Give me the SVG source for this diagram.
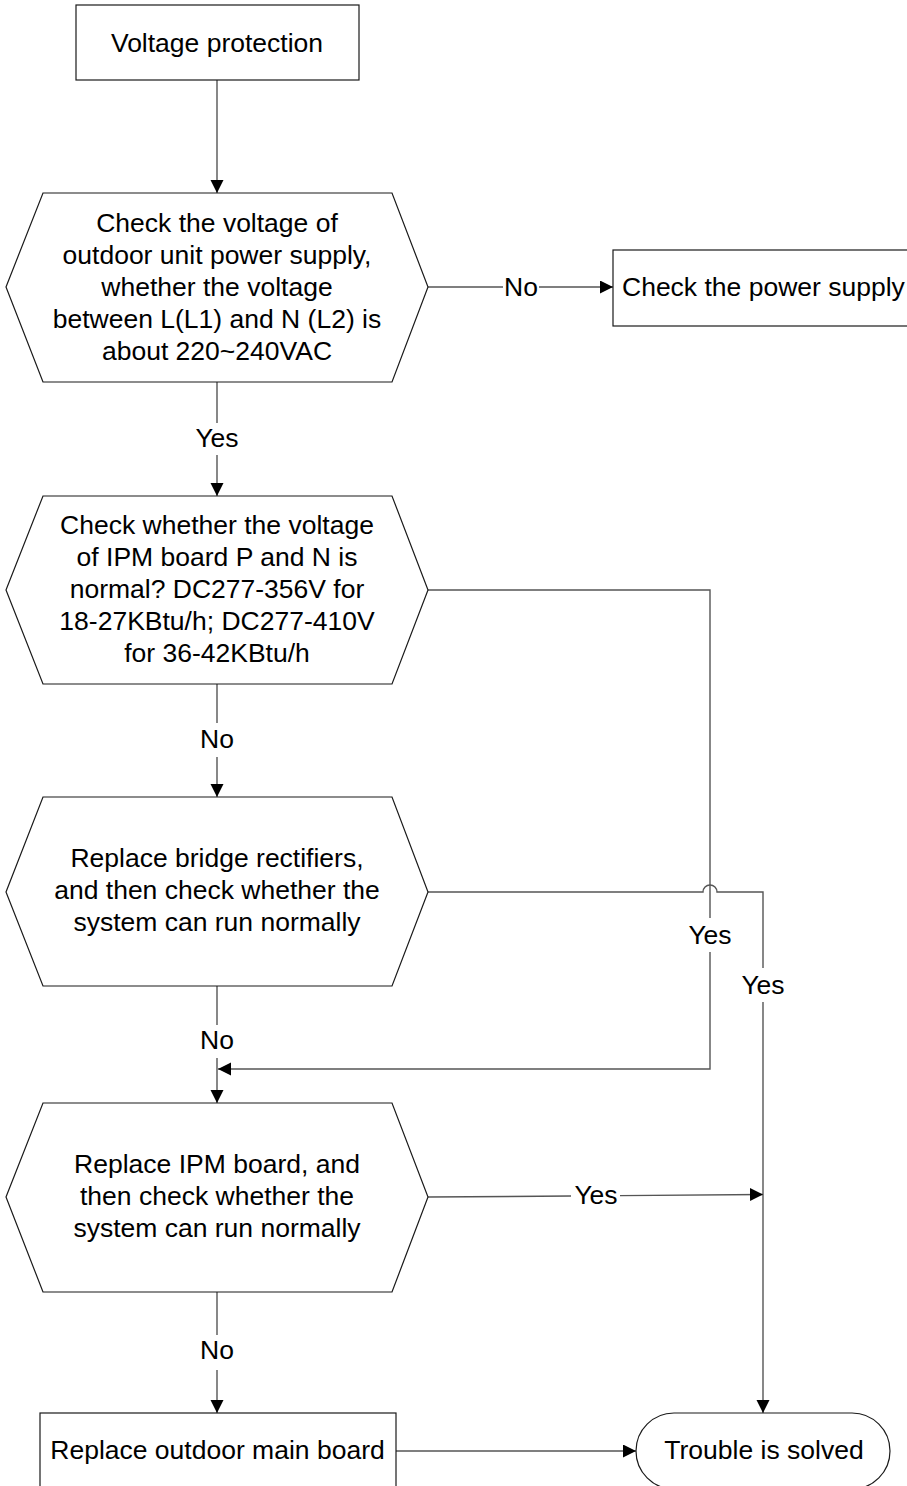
<svg xmlns="http://www.w3.org/2000/svg" width="907" height="1486" viewBox="0 0 907 1486">
<style>
  .shape { fill: #ffffff; stroke: #1a1a1a; stroke-width: 1.2; }
  .t { font-family: "Liberation Sans", Arial, sans-serif; font-size: 26.5px; fill: #000; text-anchor: middle; }
  .c { fill: none; stroke: #555; stroke-width: 1.4; }
</style>
<defs>
  <marker id="arr" markerUnits="userSpaceOnUse" markerWidth="14" markerHeight="14" refX="13" refY="6.5" orient="auto">
    <path d="M0,0 L13,6.5 L0,13 z" fill="#000"/>
  </marker>
</defs>
<rect width="907" height="1486" fill="#fff"/>

<g id="connectors">
  <line class="c" x1="217" y1="80" x2="217" y2="193" marker-end="url(#arr)"/>
  <line class="c" x1="428" y1="287" x2="503" y2="287"/>
  <line class="c" x1="539" y1="287" x2="613" y2="287" marker-end="url(#arr)"/>
  <text class="t" x="521" y="296">No</text>
  <line class="c" x1="217" y1="382" x2="217" y2="423"/>
  <line class="c" x1="217" y1="455" x2="217" y2="496" marker-end="url(#arr)"/>
  <text class="t" x="217" y="447">Yes</text>
  <line class="c" x1="217" y1="684" x2="217" y2="723"/>
  <line class="c" x1="217" y1="757" x2="217" y2="797" marker-end="url(#arr)"/>
  <text class="t" x="217" y="748">No</text>
  <line class="c" x1="217" y1="986" x2="217" y2="1025"/>
  <line class="c" x1="217" y1="1058" x2="217" y2="1103" marker-end="url(#arr)"/>
  <text class="t" x="217" y="1049">No</text>
  <line class="c" x1="217" y1="1292" x2="217" y2="1335"/>
  <line class="c" x1="217" y1="1370" x2="217" y2="1413" marker-end="url(#arr)"/>
  <text class="t" x="217" y="1359">No</text>
  <polyline class="c" points="428,590 710,590 710,918"/>
  <polyline class="c" points="710,952 710,1069 218,1069" marker-end="url(#arr)"/>
  <text class="t" x="710" y="944">Yes</text>
  <path class="c" d="M428,892 L703,892 A7,7 0 0 1 717,892 L763,892 L763,968"/>
  <line class="c" x1="763" y1="1002" x2="763" y2="1413" marker-end="url(#arr)"/>
  <text class="t" x="763" y="994">Yes</text>
  <line class="c" x1="428" y1="1197" x2="571" y2="1196"/>
  <line class="c" x1="620" y1="1195.6" x2="763" y2="1194.5" marker-end="url(#arr)"/>
  <text class="t" x="596" y="1204">Yes</text>
  <line class="c" x1="396" y1="1451" x2="636" y2="1451" marker-end="url(#arr)"/>
</g>

<g id="n-start">
  <rect class="shape" x="76" y="5" width="283" height="75"/>
  <text class="t" x="217" y="52">Voltage protection</text>
</g>

<g id="n-check-supply">
  <polygon class="shape" points="6,287 43,193 392,193 428,287 392,382 43,382"/>
  <text class="t" x="217" y="232">Check the voltage of</text>
  <text class="t" x="217" y="264">outdoor unit power supply,</text>
  <text class="t" x="217" y="296">whether the voltage</text>
  <text class="t" x="217" y="328">between L(L1) and N (L2) is</text>
  <text class="t" x="217" y="360">about 220~240VAC</text>
</g>

<g id="n-power">
  <rect class="shape" x="613" y="250" width="310" height="76"/>
  <text class="t" x="622" y="296" style="text-anchor:start">Check the power supply</text>
</g>

<g id="n-check-ipm">
  <polygon class="shape" points="6,590 43,496 392,496 428,590 392,684 43,684"/>
  <text class="t" x="217" y="534">Check whether the voltage</text>
  <text class="t" x="217" y="566">of IPM board P and N is</text>
  <text class="t" x="217" y="598">normal? DC277-356V for</text>
  <text class="t" x="217" y="630">18-27KBtu/h; DC277-410V</text>
  <text class="t" x="217" y="662">for 36-42KBtu/h</text>
</g>

<g id="n-bridge">
  <polygon class="shape" points="6,892 43,797 392,797 428,892 392,986 43,986"/>
  <text class="t" x="217" y="867">Replace bridge rectifiers,</text>
  <text class="t" x="217" y="899">and then check whether the</text>
  <text class="t" x="217" y="931">system can run normally</text>
</g>

<g id="n-ipm">
  <polygon class="shape" points="6,1197 43,1103 392,1103 428,1197 392,1292 43,1292"/>
  <text class="t" x="217" y="1173">Replace IPM board, and</text>
  <text class="t" x="217" y="1205">then check whether the</text>
  <text class="t" x="217" y="1237">system can run normally</text>
</g>

<g id="n-mainboard">
  <rect class="shape" x="40" y="1413" width="356" height="90"/>
  <text class="t" x="217.5" y="1459">Replace outdoor main board</text>
</g>

<g id="n-solved">
  <rect class="shape" x="636" y="1413" width="254" height="76" rx="38" ry="38"/>
  <text class="t" x="764" y="1459">Trouble is solved</text>
</g>
</svg>
